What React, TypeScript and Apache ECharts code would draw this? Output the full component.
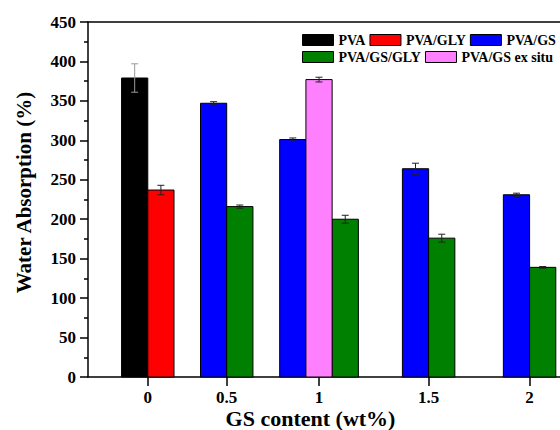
import React, { useEffect, useRef } from "react";
import * as echarts from "echarts";

// ---- data ----
const GS_LABELS = ["0", "0.5", "1", "1.5", "2"];
const SERIES_NAMES = ["PVA", "PVA/GLY", "PVA/GS", "PVA/GS/GLY", "PVA/GS ex situ"];

const PVA_GROUPS = [0];
const PVA_VALUES = [379];
const PVA_ERRORS = [18];

const PVA_GLY_GROUPS = [0];
const PVA_GLY_VALUES = [237];
const PVA_GLY_ERRORS = [6];

const PVA_GS_GROUPS = [1, 2, 3, 4];
const PVA_GS_VALUES = [347, 301, 264, 231];
const PVA_GS_ERRORS = [2, 2, 7, 2];

const PVA_GS_GLY_GROUPS = [1, 2, 3, 4];
const PVA_GS_GLY_VALUES = [216, 200, 176, 139];
const PVA_GS_GLY_ERRORS = [2, 5, 5, 1];

const EX_SITU_GROUPS = [2];
const EX_SITU_VALUES = [377];
const EX_SITU_ERRORS = [3];

// ---- layout (axis units = one bar width) ----
const GROUP_POS = [2.28, 5.29, 8.81, 12.99, 16.84];
const BAR_ORDER = ["PVA", "PVA/GLY", "PVA/GS", "PVA/GS ex situ", "PVA/GS/GLY"];
const COLORS: Record<string, string> = {
  PVA: "#000000",
  "PVA/GLY": "#ff0000",
  "PVA/GS": "#0000ff",
  "PVA/GS/GLY": "#008000",
  "PVA/GS ex situ": "#ff80ff",
};

const SERIES_DATA: Record<string, { groups: number[]; values: number[]; errors: number[] }> = {
  PVA: { groups: PVA_GROUPS, values: PVA_VALUES, errors: PVA_ERRORS },
  "PVA/GLY": { groups: PVA_GLY_GROUPS, values: PVA_GLY_VALUES, errors: PVA_GLY_ERRORS },
  "PVA/GS": { groups: PVA_GS_GROUPS, values: PVA_GS_VALUES, errors: PVA_GS_ERRORS },
  "PVA/GS/GLY": { groups: PVA_GS_GLY_GROUPS, values: PVA_GS_GLY_VALUES, errors: PVA_GS_GLY_ERRORS },
  "PVA/GS ex situ": { groups: EX_SITU_GROUPS, values: EX_SITU_VALUES, errors: EX_SITU_ERRORS },
};

const FONT = "'Liberation Serif', 'Times New Roman', serif";

function slotPosition(name: string, group: number): number {
  const members = BAR_ORDER.filter((n) => SERIES_DATA[n].groups.includes(group));
  const idx = members.indexOf(name);
  return GROUP_POS[group] + idx - (members.length - 1) / 2;
}

const renderBar = (params: any, api: any) => {
  const x = api.value(0);
  const y = api.value(1);
  const e = api.value(2);
  const p0 = api.coord([x - 0.5, 0]);
  const p1 = api.coord([x + 0.5, y]);
  const top = api.coord([x, y + e]);
  const bot = api.coord([x, y - e]);
  const cx = (p0[0] + p1[0]) / 2;
  const cap = 3.5;
  const errColor = api.visual("color") === "#000000" ? "#999" : "#222";
  return {
    type: "group",
    children: [
      {
        type: "rect",
        shape: { x: p0[0], y: p1[1], width: p1[0] - p0[0], height: p0[1] - p1[1] },
        style: { fill: api.visual("color"), stroke: "#000", lineWidth: 1 },
      },
      {
        type: "line",
        shape: { x1: cx, y1: top[1], x2: cx, y2: bot[1] },
        style: { stroke: errColor, lineWidth: 1 },
      },
      {
        type: "line",
        shape: { x1: cx - cap, y1: top[1], x2: cx + cap, y2: top[1] },
        style: { stroke: errColor, lineWidth: 1 },
      },
      {
        type: "line",
        shape: { x1: cx - cap, y1: bot[1], x2: cx + cap, y2: bot[1] },
        style: { stroke: errColor, lineWidth: 1 },
      },
    ],
  };
};

export default function App() {
  const ref = useRef<HTMLDivElement>(null);
  useEffect(() => {
    if (!ref.current) return;
    const chart = echarts.init(ref.current, undefined, { renderer: "svg" });
    const series = SERIES_NAMES.map((name) => {
      const d = SERIES_DATA[name];
      return {
        name,
        type: "custom",
        renderItem: renderBar,
        itemStyle: { color: COLORS[name] },
        encode: { x: 0, y: 1 },
        data: d.groups.map((g, i) => [slotPosition(name, g), d.values[i], d.errors[i]]),
      };
    });
    const legendCommon = {
      orient: "horizontal",
      left: 302,
      padding: 0,
      itemGap: 4,
      itemWidth: 31,
      itemHeight: 11,
      icon: "rect",
      itemStyle: { borderColor: "#000", borderWidth: 1 },
      textStyle: { fontFamily: FONT, fontWeight: "bold", fontSize: 14, color: "#000" },
    };
    chart.setOption({
      animation: false,
      backgroundColor: "#fff",
      grid: { left: 88, top: 22, width: 472, height: 355, outerBoundsMode: "none" },
      legend: [
        { ...legendCommon, top: 33, data: ["PVA", "PVA/GLY", "PVA/GS"] },
        { ...legendCommon, top: 50, data: ["PVA/GS/GLY", "PVA/GS ex situ"] },
      ],
      xAxis: [
        {
          type: "value",
          min: 0,
          max: 18,
          name: "GS content (wt%)",
          nameLocation: "middle",
          nameGap: 30,
          nameMoveOverlap: false,
          nameTextStyle: {
            fontFamily: FONT,
            fontWeight: "bold",
            fontSize: 22,
            color: "#000",
            verticalAlign: "top",
            padding: [0, 27, 0, 0],
          },
          axisLine: { show: true, lineStyle: { color: "#000", width: 1.5 } },
          axisTick: { show: true, length: 9, lineStyle: { color: "#000", width: 1.5 }, customValues: GROUP_POS },
          axisLabel: {
            show: true,
            customValues: GROUP_POS,
            margin: 12,
            fontFamily: FONT,
            fontWeight: "bold",
            fontSize: 17,
            color: "#000",
            formatter: (v: number) => {
              let best = 0;
              GROUP_POS.forEach((p, i) => {
                if (Math.abs(p - v) < Math.abs(GROUP_POS[best] - v)) best = i;
              });
              return GS_LABELS[best];
            },
          },
          splitLine: { show: false },
        },
        {
          type: "value",
          position: "top",
          min: 0,
          max: 18,
          axisLine: { show: true, onZero: false, lineStyle: { color: "#000", width: 1.5 } },
          axisTick: { show: false },
          axisLabel: { show: false },
          splitLine: { show: false },
        },
      ],
      yAxis: {
        type: "value",
        min: 0,
        max: 450,
        interval: 50,
        name: "Water Absorption (%)",
        nameLocation: "middle",
        nameGap: 54,
        nameTextStyle: { fontFamily: FONT, fontWeight: "bold", fontSize: 21, color: "#000", padding: [0, 0, 0, 14] },
        axisLine: { show: true, lineStyle: { color: "#000", width: 1.5 } },
        axisTick: { show: true, length: 8, lineStyle: { color: "#000", width: 1.5 } },
        minorTick: { show: true, splitNumber: 2, length: 4, lineStyle: { color: "#000", width: 1.5 } },
        axisLabel: { margin: 12, fontFamily: FONT, fontWeight: "bold", fontSize: 17, color: "#000" },
        splitLine: { show: false },
      },
      series,
    });
    return () => chart.dispose();
  }, []);
  return <div ref={ref} style={{ position: "absolute", left: 0, top: 0, width: 560, height: 430 }} />;
}
